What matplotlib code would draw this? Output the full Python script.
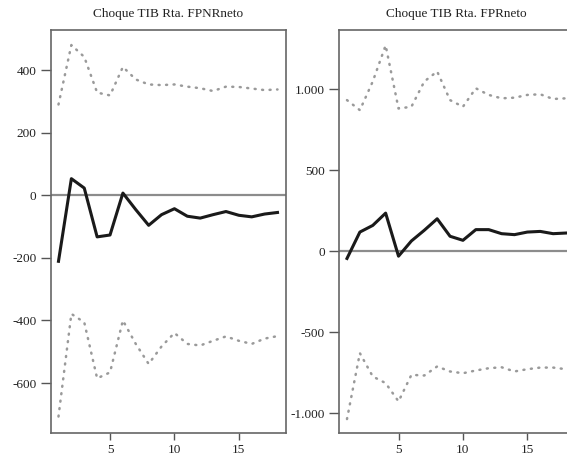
import numpy as np
import matplotlib.pyplot as plt
from matplotlib.ticker import FuncFormatter

plt.rcParams['font.family'] = ['Liberation Serif', 'DejaVu Serif']

periods = np.arange(1, 19)

# Choque TIB -> FPNRneto
fpnr_irf = [-211, 53, 23, -133, -127, 7, -46, -96, -62, -43, -67, -73, -62, -52, -64, -69, -60, -55]
fpnr_up = [290, 480, 442, 328, 319, 410, 370, 354, 352, 354, 347, 342, 333, 347, 346, 341, 336, 338]
fpnr_lo = [-707, -379, -406, -585, -566, -400, -475, -539, -483, -440, -475, -480, -465, -451, -465, -475, -458, -450]

# Choque TIB -> FPRneto
fpr_irf = [-45, 118, 159, 235, -31, 63, 129, 200, 92, 67, 133, 133, 108, 102, 118, 122, 108, 112]
fpr_up = [933, 871, 1048, 1271, 881, 892, 1048, 1110, 933, 892, 1006, 965, 944, 948, 965, 969, 940, 944]
fpr_lo = [-1037, -630, -774, -815, -928, -764, -768, -712, -743, -754, -737, -723, -717, -743, -729, -719, -719, -729]

titles = ["Choque TIB Rta. FPNRneto", "Choque TIB Rta. FPRneto"]
xticks = [5, 10, 15]


def es_fmt(v, pos):
    s = f"{abs(v):,.0f}".replace(",", ".")
    return ("-" if v < 0 else "") + s


fig = plt.figure(figsize=(5.67, 4.58), dpi=100)
W, H = 567, 458
ax1 = fig.add_axes([50.5 / W, 1 - 432.5 / H, 235.5 / W, 402.5 / H])
ax2 = fig.add_axes([339 / W, 1 - 432.5 / H, 235.5 / W, 402.5 / H])

panels = [
    (ax1, fpnr_irf, fpnr_up, fpnr_lo, (-758, 528), [-600, -400, -200, 0, 200, 400]),
    (ax2, fpr_irf, fpr_up, fpr_lo, (-1120, 1366), [-1000, -500, 0, 500, 1000]),
]

dots = (0, (0.4, 2.6))
for (ax, irf, up, lo, ylim, yt), title in zip(panels, titles):
    ax.axhline(0, color='#8c8c8c', lw=1.6, zorder=1)
    ax.plot(periods, up, color='#9a9a9a', lw=1.8, linestyle=dots,
            dash_capstyle='round')
    ax.plot(periods, lo, color='#9a9a9a', lw=1.8, linestyle=dots,
            dash_capstyle='round')
    ax.plot(periods, irf, color='#1a1a1a', lw=2.2)
    ax.set_xlim(0.38, 18.66)
    ax.set_ylim(*ylim)
    ax.set_xticks(xticks)
    ax.set_yticks(yt)
    ax.yaxis.set_major_formatter(FuncFormatter(es_fmt))
    ax.tick_params(axis='y', length=7, width=1, color='#555555', labelsize=9.5,
                   labelcolor='#222222', pad=3)
    ax.tick_params(axis='x', length=5, width=1, color='#555555', labelsize=9.5,
                   labelcolor='#222222', pad=3)
    for sp in ax.spines.values():
        sp.set_color('#666666')
        sp.set_linewidth(1.2)
    ax.set_title(title, fontsize=9.5, color='#222222', pad=9)

fig.savefig("out.png", dpi=100)
